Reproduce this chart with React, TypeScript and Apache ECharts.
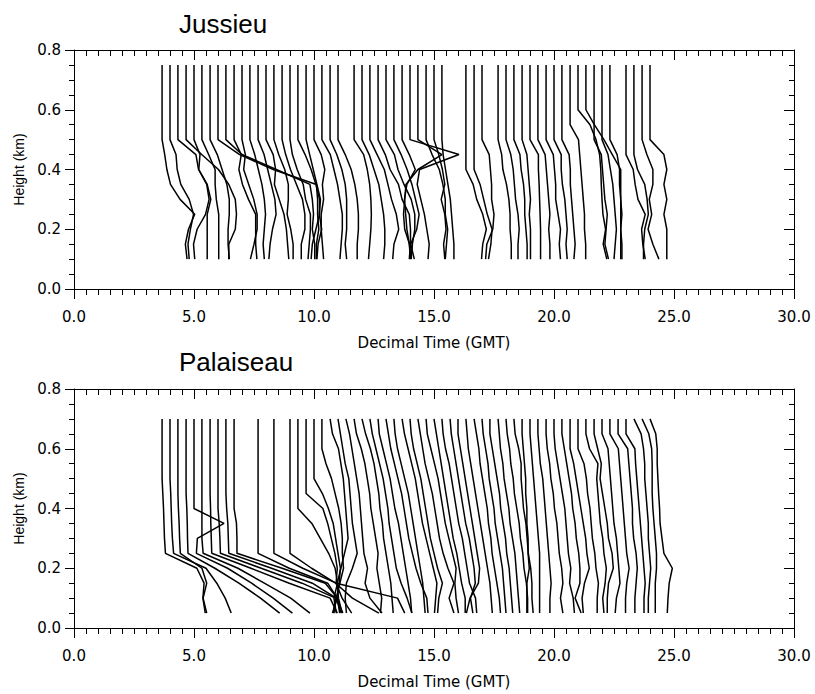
import React, { useEffect, useRef } from "react";
import * as echarts from "echarts";

// ---------- Jussieu ----------
const jussieuHeights = [0.75, 0.6, 0.55, 0.5, 0.45, 0.4, 0.35, 0.3, 0.25, 0.2, 0.15, 0.1];
const jussieuStarts = [
  3.67, 4.0, 4.33, 4.67, 5.0, 5.33, 5.67, 6.0, 6.33, 6.67, 7.0, 7.33, 7.67, 8.0, 8.33, 8.67,
  9.0, 9.33, 9.67, 10.0, 10.33, 10.67, 11.0, 11.67, 12.0, 12.33, 12.67, 13.0, 13.33, 13.67,
  14.0, 14.33, 14.67, 15.0, 15.33, 16.33, 16.67, 17.0, 17.67, 18.0, 18.33, 18.67, 19.0, 19.33,
  19.67, 20.0, 20.33, 20.67, 21.0, 21.33, 21.67, 22.0, 22.33, 23.0, 23.33, 23.67, 24.0,
];
const jussieuOffsets = [
  [0, 0, 0, 0, 0.11, 0.2, 0.35, 0.75, 1.36, 1.1, 0.97, 1.04],
  [0, 0, 0, 0, 0.25, 0.3, 0.45, 0.8, 0.98, 0.85, 0.75, 0.8],
  [0, 0, 0, 0, 0.75, 0.86, 1.2, 1.3, 1.15, 0.8, 0.65, 0.7],
  [0, 0, 0, 0, 0.65, 1.35, 1.78, 2.05, 2.1, 2.05, 1.78, 1.78],
  [0, 0, 0, 0, 0.25, 0.2, 0.55, 0.7, 0.55, 0.55, 0.55, 0.55],
  [0, 0, 0, 0, 0.28, 0.55, 0.55, 0.6, 0.7, 0.7, 0.7, 0.7],
  [0, 0, 0, 0, 0.3, 0.5, 0.7, 0.8, 0.8, 0.75, 0.75, 0.8],
  [0, 0, 0, 0, 0.9, 2.3, 4.1, 4.15, 4.15, 4.2, 4.1, 4.1],
  [0, 0, 0, 0, 0.67, 2.1, 3.5, 3.6, 3.65, 3.6, 3.7, 3.7],
  [0, 0, 0, 0, 0.3, 0.2, 0.35, 0.6, 0.9, 0.9, 0.9, 0.95],
  [0, 0, 0, 0, 0.14, 0.07, 0.28, 0.49, 0.63, 0.63, 0.5, 0.35],
  [0, 0, 0, 0, 0.2, 0.35, 0.5, 0.6, 0.65, 0.6, 0.55, 0.6],
  [0, 0, 0, 0, 0.25, 0.4, 0.55, 0.7, 0.75, 0.6, 0.5, 0.45],
  [0, 0, 0, 0, 0.3, 0.4, 0.35, 0.55, 0.75, 0.85, 0.9, 0.95],
  [0, 0, 0, 0, 0.2, 0.45, 0.6, 0.6, 0.55, 0.7, 0.8, 0.8],
  [0, 0, 0, 0, 0.15, 0.35, 0.6, 0.85, 0.95, 0.95, 0.8, 0.8],
  [0, 0, 0, 0, 0.1, 0.3, 0.55, 0.65, 0.85, 0.85, 0.8, 0.75],
  [0, 0, 0, 0, 0.3, 0.55, 0.75, 0.9, 0.9, 0.75, 0.6, 0.55],
  [0, 0, 0, 0, 0.15, 0.3, 0.45, 0.6, 0.55, 0.65, 0.5, 0.45],
  [0, 0, 0, 0, 0.3, 0.45, 0.35, 0.4, 0.3, 0.3, 0.35, 0.4],
  [0, 0, 0, 0, 0.35, 0.5, 0.65, 0.75, 0.85, 0.85, 0.8, 0.75],
  [0, 0, 0, 0, 0.28, 0.49, 0.63, 0.69, 0.69, 0.69, 0.63, 0.69],
  [0, 0, 0, 0, 0.3, 0.55, 0.7, 0.8, 0.85, 0.85, 0.8, 0.8],
  [0, 0, 0, 0, 0.4, 0.55, 0.65, 0.7, 0.72, 0.7, 0.65, 0.6],
  [0, 0, 0, 0, 0.3, 0.5, 0.7, 0.8, 0.9, 0.95, 0.95, 0.9],
  [0, 0, 0, 0, 0.3, 0.6, 0.75, 0.9, 1.1, 1.2, 1.0, 0.95],
  [0, 0, 0, 0, 0.3, 0.5, 0.85, 1.0, 1.3, 1.35, 1.35, 1.3],
  [0, 0, 0, 0, 0.35, 0.5, 0.75, 1.05, 1.2, 1.2, 1.1, 1.05],
  [0, 0, 0, 0, 0.3, 0.55, 0.75, 0.9, 1.05, 0.95, 0.7, 0.85],
  [0, 0, 0, 0, 0.3, 0.55, 0.2, 0.1, 0.15, 0.2, 0.3, 0.35],
  [0, 0, 0, 0, 2.04, 0.4, 0.3, 0.45, 0.6, 0.7, 0.8, 0.75],
  [0, 0, 0, 0, 1.0, 0.0, -0.5, -0.55, -0.6, -0.55, -0.35, -0.3],
  [0, 0, 0, 0, 0.25, 0.55, 0.7, 0.8, 0.8, 0.9, 0.85, 0.8],
  [0, 0, 0, 0, 0.2, 0.35, 0.45, 0.3, 0.45, 0.5, 0.4, 0.45],
  [0, 0, 0, 0, 0.05, 0.15, 0.25, 0.35, 0.4, 0.45, 0.5, 0.5],
  [0, 0, 0, 0, 0, 0, 0.3, 0.45, 0.7, 0.85, 0.7, 0.65],
  [0, 0, 0, 0, 0, 0, 0.25, 0.4, 0.55, 0.75, 0.7, 0.6],
  [0, 0, 0, 0, 0.3, 0.35, 0.4, 0.4, 0.5, 0.45, 0.2, 0.15],
  [0, 0, 0, 0, 0.15, 0.2, 0.35, 0.45, 0.5, 0.5, 0.55, 0.55],
  [0, 0, 0, 0, 0.2, 0.3, 0.35, 0.4, 0.5, 0.55, 0.5, 0.5],
  [0, 0, 0, 0, 0.25, 0.3, 0.4, 0.45, 0.45, 0.5, 0.55, 0.55],
  [0, 0, 0, 0, 0.2, 0.25, 0.3, 0.35, 0.3, 0.35, 0.35, 0.35],
  [0, 0, 0, 0, 0.35, 0.35, 0.38, 0.4, 0.42, 0.44, 0.44, 0.44],
  [0, 0, 0, 0, 0.3, 0.35, 0.4, 0.45, 0.5, 0.45, 0.5, 0.5],
  [0, 0, 0, 0, 0.3, 0.35, 0.4, 0.4, 0.5, 0.6, 0.55, 0.6],
  [0, 0, 0, 0, 0.3, 0.3, 0.35, 0.45, 0.5, 0.55, 0.5, 0.55],
  [0, 0, 0, 0, 0.3, 0.35, 0.35, 0.4, 0.45, 0.5, 0.55, 0.5],
  [0, 0, 0, 0.35, 0.4, 0.45, 0.5, 0.55, 0.6, 0.6, 0.65, 0.65],
  [0, 0, 0.5, 0.75, 0.9, 0.95, 0.97, 1.0, 1.04, 1.15, 1.05, 1.2],
  [0, 0, 0.35, 0.75, 1.1, 1.45, 1.45, 1.45, 1.45, 1.45, 1.45, 1.45],
  [0, 0, 0, 0, 0.3, 0.35, 0.4, 0.45, 0.55, 0.5, 0.45, 0.6],
  [0, 0, 0, 0, 0.25, 0.35, 0.45, 0.5, 0.55, 0.6, 0.55, 0.5],
  [0, 0, 0, 0, 0.3, 0.4, 0.4, 0.45, 0.5, 0.45, 0.5, 0.5],
  [0, 0, 0, 0, 0, 0.3, 0.38, 0.5, 0.8, 0.65, 0.7, 0.8],
  [0, 0, 0, 0, 0, 0.15, 0.45, 0.55, 0.6, 0.45, 0.4, 0.4],
  [0, 0, 0, 0, 0.2, 0.45, 0.45, 0.3, 0.4, 0.25, 0.45, 0.7],
  [0, 0, 0, 0, 0.58, 0.7, 0.58, 0.7, 0.58, 0.7, 0.7, 0.7],
];

// ---------- Palaiseau ----------
const palaiseauHeights = [0.7, 0.65, 0.6, 0.55, 0.5, 0.45, 0.4, 0.35, 0.3, 0.25, 0.2, 0.15, 0.1, 0.05];
const palaiseauStarts = [
  3.67, 4.0, 4.33, 4.67, 5.0, 5.33, 5.67, 6.0, 6.33, 6.67, 7.67, 8.33,
  9.0, 9.33, 9.67, 10.0, 10.33, 10.67, 11.0, 11.33, 11.67, 12.0, 12.33, 12.67, 13.0, 13.33,
  13.67, 14.0, 14.33, 14.67, 15.0, 15.33, 15.67, 16.0, 16.33, 16.67, 17.0, 17.33, 17.67, 18.0,
  18.33, 18.67, 19.0, 19.33, 19.67, 20.0, 20.33, 20.67, 21.0, 21.33, 21.67, 22.0, 22.33, 22.67,
  23.0, 23.33, 23.67, 24.0,
];
const palaiseauOffsets = [
  [0, 0, 0, 0, 0, 0.03, 0.06, 0.08, 0.1, 0.14, 1.45, 1.75, 1.7, 1.8],
  [0, 0, 0, 0, 0, 0.03, 0.05, 0.07, 0.1, 0.15, 1.5, 1.95, 2.3, 2.55],
  [0, 0, 0, 0, 0, 0, 0.02, 0.05, 0.07, 0.1, 1.0, 1.2, 1.05, 1.2],
  [0, 0, 0, 0, 0, 0, 0.03, 0.05, 0.06, 0.08, 1.2, 2.2, 3.1, 3.9],
  [0, 0, 0, 0, 0, 0, 0, 1.25, 0.14, 0.1, 1.4, 2.4, 3.3, 4.1],
  [0, 0, 0, 0, 0, 0, 0, 0, 0, 0.05, 1.5, 2.6, 3.7, 4.5],
  [0, 0, 0, 0, 0, 0, 0.02, 0.03, 0.05, 0.07, 1.7, 3.3, 5.0, 5.3],
  [0, 0, 0, 0, 0, 0, 0, 0.05, 0.08, 0.1, 1.8, 3.5, 4.9, 4.8],
  [0, 0, 0, 0, 0, 0, 0.03, 0.08, 0.1, 0.12, 1.9, 3.6, 4.6, 4.5],
  [0, 0, 0, 0, 0, 0, 0, 0.1, 0.12, 0.12, 2.0, 3.8, 4.3, 4.4],
  [0, 0, 0, 0, 0, 0, 0, 0, 0, 0, 1.3, 2.9, 3.3, 3.1],
  [0, 0, 0, 0, 0, 0, 0, 0, 0, 0, 1.2, 2.6, 5.15, 5.45],
  [0, 0, 0, 0, 0, 0, 0, 0, 0, 0, 0.9, 1.9, 2.6, 3.7],
  [0, 0, 0, 0, 0, 0, 0, 0.58, 0.93, 1.28, 1.55, 1.65, 1.5, 1.6],
  [0, 0, 0, 0, 0, 0, 0.7, 0.9, 1.05, 1.2, 1.3, 1.25, 1.5, 1.9],
  [0, 0, 0, 0, 0, 0.35, 0.6, 0.8, 0.9, 1.0, 1.1, 1.05, 0.95, 1.2],
  [0, 0, 0, 0.17, 0.4, 0.55, 0.7, 0.8, 0.85, 0.85, 0.9, 0.75, 0.6, 0.8],
  [0, 0.1, 0.35, 0.45, 0.55, 0.6, 0.65, 0.7, 0.75, 0.6, 0.45, 0.3, 0.35, 0.5],
  [0, 0.1, 0.2, 0.3, 0.45, 0.5, 0.55, 0.6, 0.7, 0.8, 0.6, 0.35, 0.3, 0.35],
  [0, 0.15, 0.25, 0.35, 0.45, 0.55, 0.6, 0.65, 0.7, 0.75, 0.9, 0.8, 1.0, 1.5],
  [0, 0.1, 0.3, 0.45, 0.55, 0.65, 0.7, 0.8, 0.9, 1.0, 0.95, 1.05, 1.15, 1.1],
  [0, 0.15, 0.35, 0.5, 0.6, 0.7, 0.75, 0.85, 0.9, 1.0, 1.1, 1.2, 1.25, 1.3],
  [0, 0.1, 0.25, 0.4, 0.55, 0.65, 0.75, 0.8, 0.9, 1.0, 1.1, 1.3, 1.55, 1.75],
  [0, 0.05, 0.2, 0.35, 0.5, 0.6, 0.7, 0.85, 0.95, 1.05, 1.15, 1.25, 1.35, 1.4],
  [0, 0.1, 0.2, 0.35, 0.5, 0.65, 0.75, 0.85, 0.95, 1.1, 1.25, 1.45, 1.7, 1.75],
  [0, 0.05, 0.15, 0.3, 0.45, 0.6, 0.7, 0.8, 0.9, 1.0, 1.1, 1.2, 1.25, 1.3],
  [0, 0.1, 0.25, 0.4, 0.55, 0.65, 0.75, 0.85, 1.0, 1.15, 1.3, 1.45, 1.4, 1.35],
  [0, 0.05, 0.15, 0.3, 0.45, 0.55, 0.65, 0.75, 0.85, 1.0, 1.15, 1.35, 1.2, 1.15],
  [0, 0.1, 0.2, 0.3, 0.45, 0.6, 0.7, 0.8, 0.9, 1.05, 1.25, 1.5, 1.3, 1.5],
  [0, 0.05, 0.2, 0.35, 0.5, 0.6, 0.7, 0.8, 0.95, 1.1, 1.25, 1.2, 1.25, 1.35],
  [0, 0.1, 0.2, 0.3, 0.4, 0.5, 0.6, 0.7, 0.8, 0.95, 1.05, 1.15, 1.3, 1.3],
  [0, 0.05, 0.15, 0.3, 0.4, 0.5, 0.6, 0.7, 0.85, 0.95, 1.05, 1.15, 1.4, 1.45],
  [0, 0.05, 0.15, 0.25, 0.35, 0.45, 0.55, 0.65, 0.8, 0.9, 1.0, 1.05, 0.85, 0.95],
  [0, 0.0, 0.1, 0.2, 0.3, 0.4, 0.5, 0.6, 0.7, 0.8, 0.9, 0.85, 0.5, 0.35],
  [0, 0.05, 0.1, 0.2, 0.3, 0.4, 0.5, 0.6, 0.7, 0.8, 0.9, 1.0, 1.05, 1.1],
  [0, 0.1, 0.2, 0.25, 0.35, 0.45, 0.55, 0.6, 0.7, 0.75, 0.85, 0.95, 1.05, 1.1],
  [0, 0.05, 0.15, 0.25, 0.3, 0.4, 0.5, 0.55, 0.65, 0.75, 0.85, 0.9, 0.95, 1.0],
  [0, 0.0, 0.1, 0.2, 0.3, 0.4, 0.45, 0.55, 0.65, 0.7, 0.8, 0.85, 0.9, 0.95],
  [0, 0.05, 0.1, 0.2, 0.25, 0.35, 0.45, 0.5, 0.6, 0.7, 0.75, 0.8, 0.85, 0.9],
  [0, 0.05, 0.15, 0.2, 0.3, 0.35, 0.45, 0.55, 0.6, 0.7, 0.75, 0.85, 0.9, 0.9],
  [0, 0.05, 0.2, 0.3, 0.3, 0.35, 0.4, 0.5, 0.55, 0.6, 0.7, 0.75, 0.75, 0.8],
  [0, 0.0, 0.05, 0.1, 0.15, 0.15, 0.2, 0.2, 0.25, 0.25, 0.3, 0.2, 0.2, 0.2],
  [0, 0.0, 0.05, 0.1, 0.15, 0.2, 0.25, 0.3, 0.35, 0.4, 0.4, 0.4, 0.4, 0.4],
  [0, 0.0, 0.05, 0.1, 0.2, 0.25, 0.3, 0.35, 0.4, 0.45, 0.5, 0.55, 0.5, 0.5],
  [0, 0.0, 0.05, 0.15, 0.2, 0.3, 0.35, 0.45, 0.5, 0.55, 0.65, 0.7, 0.6, 0.7],
  [0, 0.0, 0.05, 0.15, 0.25, 0.35, 0.45, 0.5, 0.55, 0.6, 0.7, 0.65, 0.8, 0.85],
  [0, 0.0, 0.1, 0.2, 0.3, 0.4, 0.45, 0.55, 0.6, 0.7, 0.75, 0.75, 0.55, 0.8],
  [0, 0.0, 0.0, 0.15, 0.25, 0.35, 0.45, 0.55, 0.65, 0.7, 0.8, 0.6, 0.5, 0.55],
  [0, 0.0, 0.0, 0.25, 0.35, 0.4, 0.5, 0.55, 0.6, 0.7, 0.75, 0.85, 0.8, 0.8],
  [0, 0.0, 0.15, 0.5, 0.45, 0.5, 0.55, 0.6, 0.7, 0.75, 0.85, 0.8, 0.7, 0.75],
  [0, 0.0, 0.15, 0.3, 0.25, 0.35, 0.45, 0.55, 0.6, 0.75, 0.8, 0.6, 0.55, 0.55],
  [0, 0.0, 0.25, 0.3, 0.35, 0.4, 0.45, 0.5, 0.6, 0.65, 0.7, 0.75, 0.6, 0.55],
  [0, 0.0, 0.35, 0.4, 0.45, 0.5, 0.55, 0.6, 0.65, 0.7, 0.8, 0.7, 0.65, 0.65],
  [0, 0.0, 0.4, 0.45, 0.5, 0.55, 0.6, 0.6, 0.65, 0.75, 0.8, 0.75, 0.7, 0.7],
  [0, 0.0, 0.37, 0.4, 0.45, 0.5, 0.55, 0.6, 0.65, 0.7, 0.75, 0.8, 0.75, 0.75],
  [0, 0.3, 0.4, 0.45, 0.45, 0.5, 0.55, 0.6, 0.6, 0.65, 0.7, 0.65, 0.6, 0.6],
  [0, 0.28, 0.4, 0.42, 0.42, 0.42, 0.45, 0.5, 0.55, 0.6, 0.6, 0.55, 0.55, 0.55],
  [0, 0.24, 0.3, 0.3, 0.33, 0.36, 0.4, 0.42, 0.5, 0.58, 0.93, 0.8, 0.75, 0.72],
];

const xTicks = [0, 5, 10, 15, 20, 25, 30];
const yTicks = [0, 0.2, 0.4, 0.6, 0.8];
const titles = ["Jussieu", "Palaiseau"];
const xName = "Decimal Time (GMT)";
const yName = "Height (km)";

const FONT = "DejaVu Sans";
const GRID_TOPS = [50, 389];
const GRID_H = 239;

function profileSeries(starts: number[], offsets: number[][], heights: number[], idx: number) {
  return starts.map((s, i) => ({
    type: "line",
    xAxisIndex: idx,
    yAxisIndex: idx,
    data: heights.map((h, k) => [Math.round((s + offsets[i][k]) * 1000) / 1000, h]),
    symbol: "none",
    showSymbol: false,
    silent: true,
    clip: true,
    lineStyle: { color: "#000", width: 1.5 },
    z: 3,
  }));
}

function xAxisPair(g: number) {
  const base = {
    type: "value",
    gridIndex: g,
    min: xTicks[0],
    max: xTicks[xTicks.length - 1],
    interval: xTicks[1] - xTicks[0],
    splitLine: { show: false },
    axisLine: { show: true, onZero: false, lineStyle: { color: "#000", width: 1 } },
    minorTick: { show: true, splitNumber: 10, length: 6, lineStyle: { color: "#000", width: 1 } },
  };
  return [
    {
      ...base,
      position: "bottom",
      axisTick: { show: true, inside: false, length: 10, lineStyle: { color: "#000", width: 1 } },
      axisLabel: {
        show: true,
        margin: 20,
        color: "#000",
        fontFamily: FONT,
        fontSize: 15,
        formatter: (v: number) => v.toFixed(1),
      },
      name: xName,
      nameLocation: "middle",
      nameGap: 46,
      nameTextStyle: { color: "#000", fontFamily: FONT, fontSize: 15 },
    },
    {
      ...base,
      position: "top",
      axisTick: { show: true, inside: true, length: 10, lineStyle: { color: "#000", width: 1 } },
      axisLabel: { show: false },
    },
  ];
}

function yAxisPair(g: number) {
  const base = {
    type: "value",
    gridIndex: g,
    min: yTicks[0],
    max: yTicks[yTicks.length - 1],
    interval: yTicks[1] - yTicks[0],
    splitLine: { show: false },
    axisLine: { show: true, onZero: false, lineStyle: { color: "#000", width: 1 } },
    minorTick: { show: true, splitNumber: 4, length: 5, lineStyle: { color: "#000", width: 1 } },
  };
  return [
    {
      ...base,
      position: "left",
      axisTick: { show: true, inside: false, length: 9, lineStyle: { color: "#000", width: 1 } },
      axisLabel: {
        show: true,
        margin: 13,
        color: "#000",
        fontFamily: FONT,
        fontSize: 15,
        formatter: (v: number) => v.toFixed(1),
      },
      name: yName,
      nameLocation: "middle",
      nameGap: 46,
      nameTextStyle: { color: "#000", fontFamily: "Liberation Sans", fontSize: 14 },
    },
    {
      ...base,
      position: "right",
      axisTick: { show: true, inside: true, length: 10, lineStyle: { color: "#000", width: 1 } },
      axisLabel: { show: false },
    },
  ];
}

export default function App() {
  const ref = useRef<HTMLDivElement>(null);
  useEffect(() => {
    if (!ref.current) return;
    const chart = echarts.init(ref.current, undefined, { renderer: "svg" });
    const xa0 = xAxisPair(0);
    const xa1 = xAxisPair(1);
    const ya0 = yAxisPair(0);
    const ya1 = yAxisPair(1);
    const titleStyle = { fontFamily: "Liberation Sans", fontSize: 26, fontWeight: "normal", color: "#000" };
    chart.setOption({
      animation: false,
      backgroundColor: "#fff",
      title: [
        { text: titles[0], left: 174, top: 6, textStyle: titleStyle },
        { text: titles[1], left: 174, top: 344, textStyle: titleStyle },
      ],
      grid: [
        { left: 74, right: 21, top: GRID_TOPS[0], height: GRID_H, containLabel: false },
        { left: 74, right: 21, top: GRID_TOPS[1], height: GRID_H, containLabel: false },
      ],
      // order: 0 bottom(g0), 1 bottom(g1), 2 top(g0), 3 top(g1)
      xAxis: [xa0[0], xa1[0], xa0[1], xa1[1]],
      yAxis: [ya0[0], ya1[0], ya0[1], ya1[1]],
      series: [
        ...profileSeries(jussieuStarts, jussieuOffsets, jussieuHeights, 0),
        ...profileSeries(palaiseauStarts, palaiseauOffsets, palaiseauHeights, 1),
      ],
    });
    return () => chart.dispose();
  }, []);
  return (
    <div
      ref={ref}
      style={{ position: "fixed", left: 0, top: 0, width: 815, height: 694, background: "#fff" }}
    />
  );
}
